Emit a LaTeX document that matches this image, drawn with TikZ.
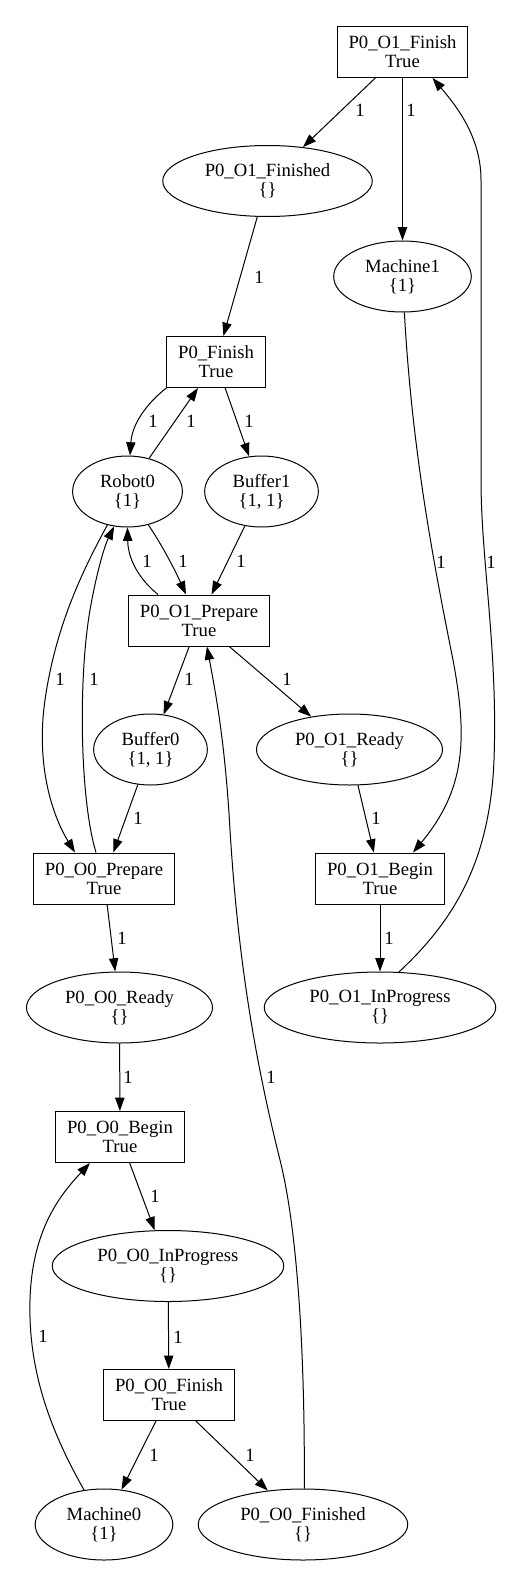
\documentclass[tikz,border=0pt]{standalone}
\usepackage{fontspec}
\setmainfont{Liberation Serif}
\usepackage{tikz}
\usetikzlibrary{shapes,arrows.meta,positioning,calc}

\begin{document}
\begin{tikzpicture}[x=0.75pt,y=-0.75pt,
        every node/.style={font=\fontsize{14}{14.25}\selectfont,align=center},
        place/.style={draw,ellipse,line width=0.75pt,inner xsep=8.5pt,minimum height=53.25pt},
        transition/.style={draw,rectangle,line width=0.75pt,inner xsep=8.5pt,minimum height=38.25pt},
        weight/.style={inner sep=0pt},
        arc/.style={line width=0.75pt,-{Triangle[length=10pt,width=7pt]}}]
    \useasboundingbox (0,0) rectangle (528,1587);

    % places and transitions
    \node[transition] (o1fin) at (402.5,52) {P0\_O1\_Finish\\True};
    \node[place] (o1fd) at (267.5,181) {P0\_O1\_Finished\\\{\}};
    \node[place] (mach1) at (402.5,276.5) {Machine1\\\{1\}};
    \node[transition] (pfin) at (216,362) {P0\_Finish\\True};
    \node[place] (robot) at (127.5,491.5) {Robot0\\\{1\}};
    \node[place] (buf1) at (261.5,491.5) {Buffer1\\\{1, 1\}};
    \node[transition] (o1prep) at (199,620.5) {P0\_O1\_Prepare\\True};
    \node[place] (buf0) at (150.5,749.5) {Buffer0\\\{1, 1\}};
    \node[place] (o1rdy) at (349.5,749.5) {P0\_O1\_Ready\\\{\}};
    \node[transition] (o0prep) at (104,878.5) {P0\_O0\_Prepare\\True};
    \node[transition] (o1beg) at (380,878.5) {P0\_O1\_Begin\\True};
    \node[place] (o0rdy) at (119.5,1007.5) {P0\_O0\_Ready\\\{\}};
    \node[place] (o1ip) at (380,1007.5) {P0\_O1\_InProgress\\\{\}};
    \node[transition] (o0beg) at (120,1137) {P0\_O0\_Begin\\True};
    \node[place] (o0ip) at (168,1266) {P0\_O0\_InProgress\\\{\}};
    \node[transition] (o0fin) at (169,1395) {P0\_O0\_Finish\\True};
    \node[place] (mach0) at (104,1524.5) {Machine0\\\{1\}};
    \node[place] (o0fd) at (303,1524.5) {P0\_O0\_Finished\\\{\}};

    % arcs
    \draw[arc] (o1fin) -- (o1fd);
    \draw[arc] (o1fin) -- (mach1);
    \draw[arc] (o1fd) -- (pfin);
    \draw[arc] (mach1.-87) .. controls (412,450) and (433,560) .. (453,660)
        .. controls (468,740) and (465,790) .. ($(o1beg.north)+(33,0)$);
    \draw[arc] (o1ip.62) .. controls (455,920) and (490,860) .. (494,760)
        .. controls (498,650) and (481,560) .. (481,480) -- (481,180)
        .. controls (481,140) and (460,110) .. ($(o1fin.south)+(30,0)$);
    \draw[arc] (pfin.south west) .. controls (145,405) and (132,425) .. (robot.86);
    \draw[arc] (robot.57) -- ($(pfin.south)+(-18,0)$);
    \draw[arc] (pfin) -- (buf1);
    \draw[arc] (robot.-58) .. controls (162,545) and (175,570) .. ($(o1prep.north)+(-13,0)$);
    \draw[arc] ($(o1prep.north)+(-41,0)$) .. controls (140,580) and (128,560) .. (robot.south);
    \draw[arc] (buf1) -- (o1prep);
    \draw[arc] (o1prep) -- (buf0);
    \draw[arc] (o1prep) -- (o1rdy);
    \draw[arc] (robot.-121) .. controls (80,575) and (55,630) .. (45,700)
        .. controls (35,770) and (55,820) .. ($(o0prep.north)+(-29,0)$);
    \draw[arc] ($(o0prep.north)+(-8,0)$) .. controls (80,800) and (78,680) .. (90,610)
        .. controls (97,570) and (105,545) .. (robot.-111);
    \draw[arc] (buf0) -- (o0prep);
    \draw[arc] (o0fd.88) .. controls (305,1380) and (300,1240) .. (280,1160)
        .. controls (255,1060) and (238,960) .. (230,830)
        .. controls (225,740) and (215,690) .. ($(o1prep.south)+(8,0)$);
    \draw[arc] (o1rdy) -- (o1beg);
    \draw[arc] (o0prep) -- (o0rdy);
    \draw[arc] (o1beg) -- (o1ip);
    \draw[arc] (o0rdy) -- (o0beg);
    \draw[arc] (o0beg) -- (o0ip);
    \draw[arc] (o0ip) -- (o0fin);
    \draw[arc] (o0fin) -- (mach0);
    \draw[arc] (o0fin) -- (o0fd);
    \draw[arc] (mach0.120) .. controls (50,1430) and (28,1370) .. (30,1300)
        .. controls (32,1230) and (60,1195) .. ($(o0beg.south)+(-30,0)$);

    % arc weights
    \foreach \p [count=\i] in {(360,110),(411,110),(259,277),(441,562),(491,562),
            (153,421),(191,421),(249,421),(183,561),(147,561),(241,561),(189,679),
            (287,679),(60,679),(94,679),(138,818),(271,1077),(376,818),(122,938),
            (389,938),(128,1077),(155,1196),(178,1337),(154,1455),(250,1455),(43,1336)}
        \node[weight] (w\i) at \p {1};
\end{tikzpicture}
\end{document}
